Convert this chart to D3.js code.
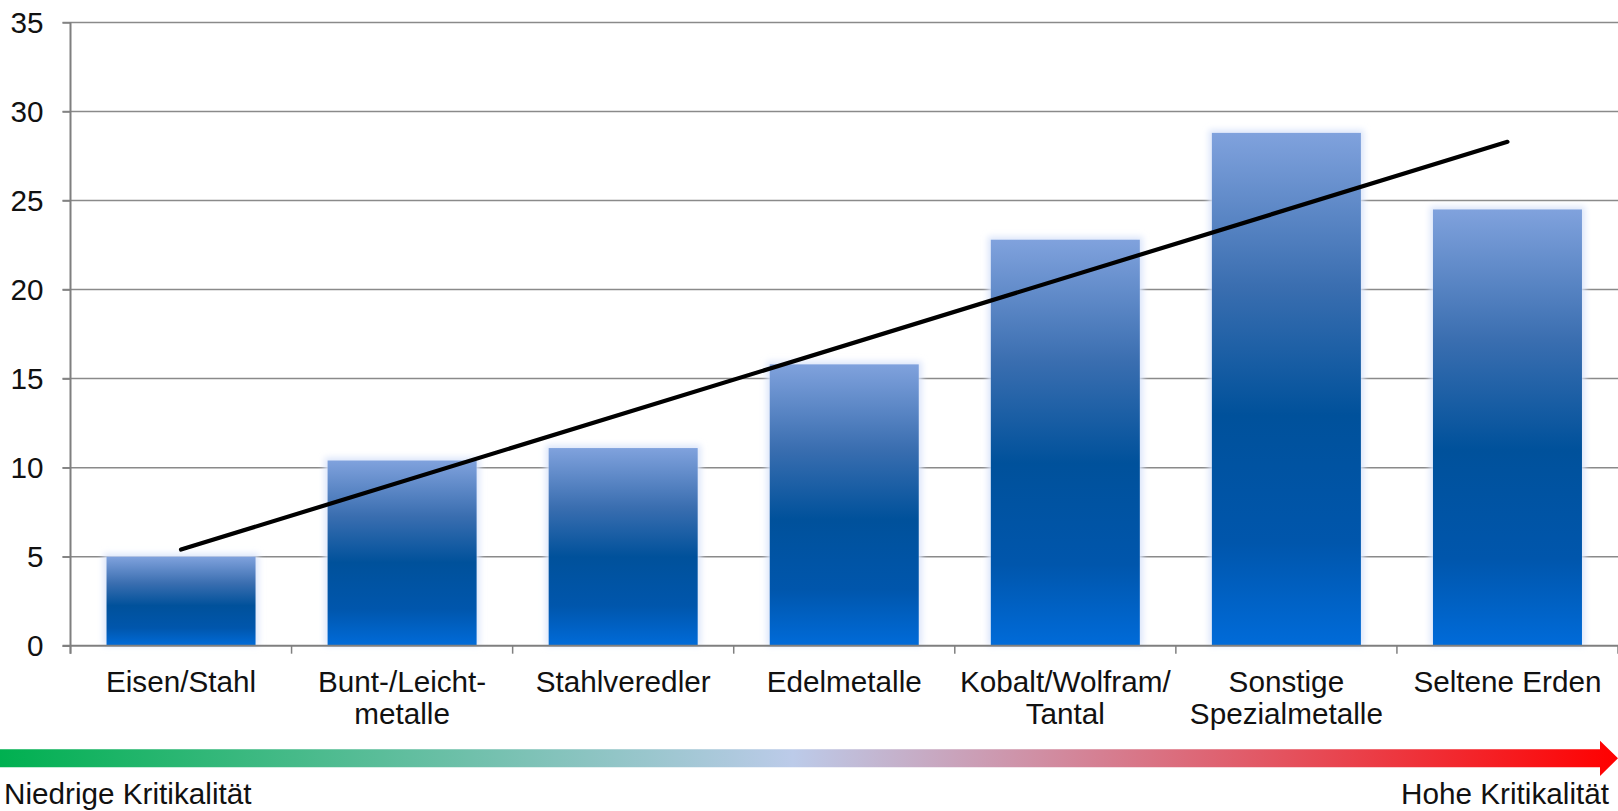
<!DOCTYPE html>
<html>
<head>
<meta charset="utf-8">
<script src="https://cdn.jsdelivr.net/npm/d3@7"></script>
<style>
    html, body { margin: 0; padding: 0; background: #fff; }
    svg { display: block; font-family: "Liberation Sans", Arial, sans-serif; }
</style>
</head>
<body>
<svg id="chart" width="1618" height="811"></svg>
<script>
// Categories (line breaks as in the original axis labels)
const categories = [
    ["Eisen/Stahl"],
    ["Bunt-/Leicht-", "metalle"],
    ["Stahlveredler"],
    ["Edelmetalle"],
    ["Kobalt/Wolfram/", "Tantal"],
    ["Sonstige", "Spezialmetalle"],
    ["Seltene Erden"]
];
const values = [5.0, 10.4, 11.1, 15.8, 22.8, 28.8, 24.5];
// linear trend line, value at first and at last category
const trendValues = [5.4, 28.3];
const yTicks = [0, 5, 10, 15, 20, 25, 30, 35];
const arrowLabels = ["Niedrige Kritikalität", "Hohe Kritikalität"];

const W = 1618, H = 811;
const margin = {top: 22.5, right: 0, bottom: 165.3, left: 70.5};
const width = W - margin.left - margin.right,
      height = H - margin.top - margin.bottom;
const fontSize = 29.7;

const svg = d3.select("#chart");
const defs = svg.append("defs");

// bar gradient: light top, dark middle, brighter bottom
const barGrad = defs.append("linearGradient")
    .attr("id", "barGrad")
    .attr("x1", 0).attr("y1", 0).attr("x2", 0).attr("y2", 1);
barGrad.append("stop").attr("offset", "0%").attr("stop-color", "#80a2dd");
barGrad.append("stop").attr("offset", "30%").attr("stop-color", "#3a6eb0");
barGrad.append("stop").attr("offset", "55%").attr("stop-color", "#00519b");
barGrad.append("stop").attr("offset", "80%").attr("stop-color", "#0056ac");
barGrad.append("stop").attr("offset", "100%").attr("stop-color", "#006bd9");

// soft glow round the bars
const glow = defs.append("filter")
    .attr("id", "glow")
    .attr("x", "-20%").attr("y", "-20%").attr("width", "140%").attr("height", "140%");
glow.append("feGaussianBlur").attr("stdDeviation", 3);

// arrow gradient green -> light blue -> red
const arrowGrad = defs.append("linearGradient")
    .attr("id", "arrowGrad")
    .attr("gradientUnits", "userSpaceOnUse")
    .attr("x1", 0).attr("y1", 0).attr("x2", W).attr("y2", 0);
arrowGrad.append("stop").attr("offset", "0%").attr("stop-color", "#00b050");
arrowGrad.append("stop").attr("offset", "49%").attr("stop-color", "#bccbe9");
arrowGrad.append("stop").attr("offset", "100%").attr("stop-color", "#ff0000");

const g = svg.append("g")
    .attr("transform", "translate(" + margin.left + "," + margin.top + ")");

const x = d3.scaleBand()
    .domain(d3.range(categories.length))
    .range([0, width])
    .paddingInner(0.326)
    .paddingOuter(0.163);

const y = d3.scaleLinear()
    .domain([0, 35])
    .range([height, 0]);

// gridlines
g.selectAll(".grid")
    .data(yTicks.filter(d => d > 0))
    .enter()
    .append("line")
        .attr("class", "grid")
        .attr("x1", -8)
        .attr("x2", width)
        .attr("y1", d => y(d))
        .attr("y2", d => y(d))
        .attr("stroke", "#8a8a8a")
        .attr("stroke-width", 1.5);

// y axis
const yAxis = g.append("g")
    .call(d3.axisLeft(y).tickValues(yTicks).tickSize(8).tickPadding(19));
yAxis.select(".domain").remove();
yAxis.selectAll(".tick line").attr("stroke", "#808080").attr("stroke-width", 1.5);
yAxis.selectAll(".tick text")
    .attr("font-size", fontSize)
    .attr("font-family", "Liberation Sans, Arial, sans-serif")
    .attr("fill", "#111");

// bars with glow
const bars = g.selectAll(".barGroup")
    .data(values)
    .enter()
    .append("g")
        .attr("class", "barGroup");
bars.append("rect")
    .attr("x", (d, i) => x(i) - 3)
    .attr("y", d => y(d) - 3)
    .attr("width", x.bandwidth() + 6)
    .attr("height", d => height - y(d) + 3)
    .attr("fill", "#dbe5fa")
    .attr("filter", "url(#glow)");
bars.append("rect")
    .attr("x", (d, i) => x(i))
    .attr("y", d => y(d))
    .attr("width", x.bandwidth())
    .attr("height", d => height - y(d))
    .attr("fill", "url(#barGrad)");

// x axis line with ticks at category boundaries
g.append("line")
    .attr("x1", -8).attr("x2", width)
    .attr("y1", height).attr("y2", height)
    .attr("stroke", "#7f7f7f").attr("stroke-width", 2);
const step = x.step();
g.selectAll(".xtick")
    .data(d3.range(categories.length + 1))
    .enter()
    .append("line")
        .attr("class", "xtick")
        .attr("x1", d => d * step).attr("x2", d => d * step)
        .attr("y1", height).attr("y2", height + 8)
        .attr("stroke", "#808080").attr("stroke-width", 1.5);

// y axis line
g.append("line")
    .attr("x1", 0).attr("x2", 0)
    .attr("y1", 0).attr("y2", height + 8)
    .attr("stroke", "#7f7f7f").attr("stroke-width", 2);

// category labels
const labels = g.selectAll(".catLabel")
    .data(categories)
    .enter()
    .append("text")
        .attr("class", "catLabel")
        .attr("text-anchor", "middle")
        .attr("font-size", fontSize)
        .attr("fill", "#111")
        .attr("x", (d, i) => x(i) + x.bandwidth() / 2)
        .attr("y", height + 46);
labels.selectAll("tspan")
    .data((d, i) => d.map(t => ({t: t, i: i})))
    .enter()
    .append("tspan")
        .attr("x", d => x(d.i) + x.bandwidth() / 2)
        .attr("dy", (d, j) => j === 0 ? 0 : 32.5)
        .text(d => d.t);

// trend line
const last = categories.length - 1;
g.append("line")
    .attr("x1", x(0) + x.bandwidth() / 2)
    .attr("y1", y(trendValues[0]))
    .attr("x2", x(last) + x.bandwidth() / 2)
    .attr("y2", y(trendValues[1]))
    .attr("stroke", "#000")
    .attr("stroke-width", 4.2)
    .attr("stroke-linecap", "round");

// criticality arrow
const ay = 758.3;
svg.append("path")
    .attr("d", "M0," + (ay - 9) + "H1600V" + (ay - 17.6) + "L1618," + ay +
               "L1600," + (ay + 17.6) + "V" + (ay + 9) + "H0Z")
    .attr("fill", "url(#arrowGrad)");

svg.append("text")
    .attr("x", 4).attr("y", 804)
    .attr("font-size", fontSize).attr("fill", "#111")
    .text(arrowLabels[0]);
svg.append("text")
    .attr("x", 1609).attr("y", 804)
    .attr("text-anchor", "end")
    .attr("font-size", fontSize).attr("fill", "#111")
    .text(arrowLabels[1]);
</script>
</body>
</html>
